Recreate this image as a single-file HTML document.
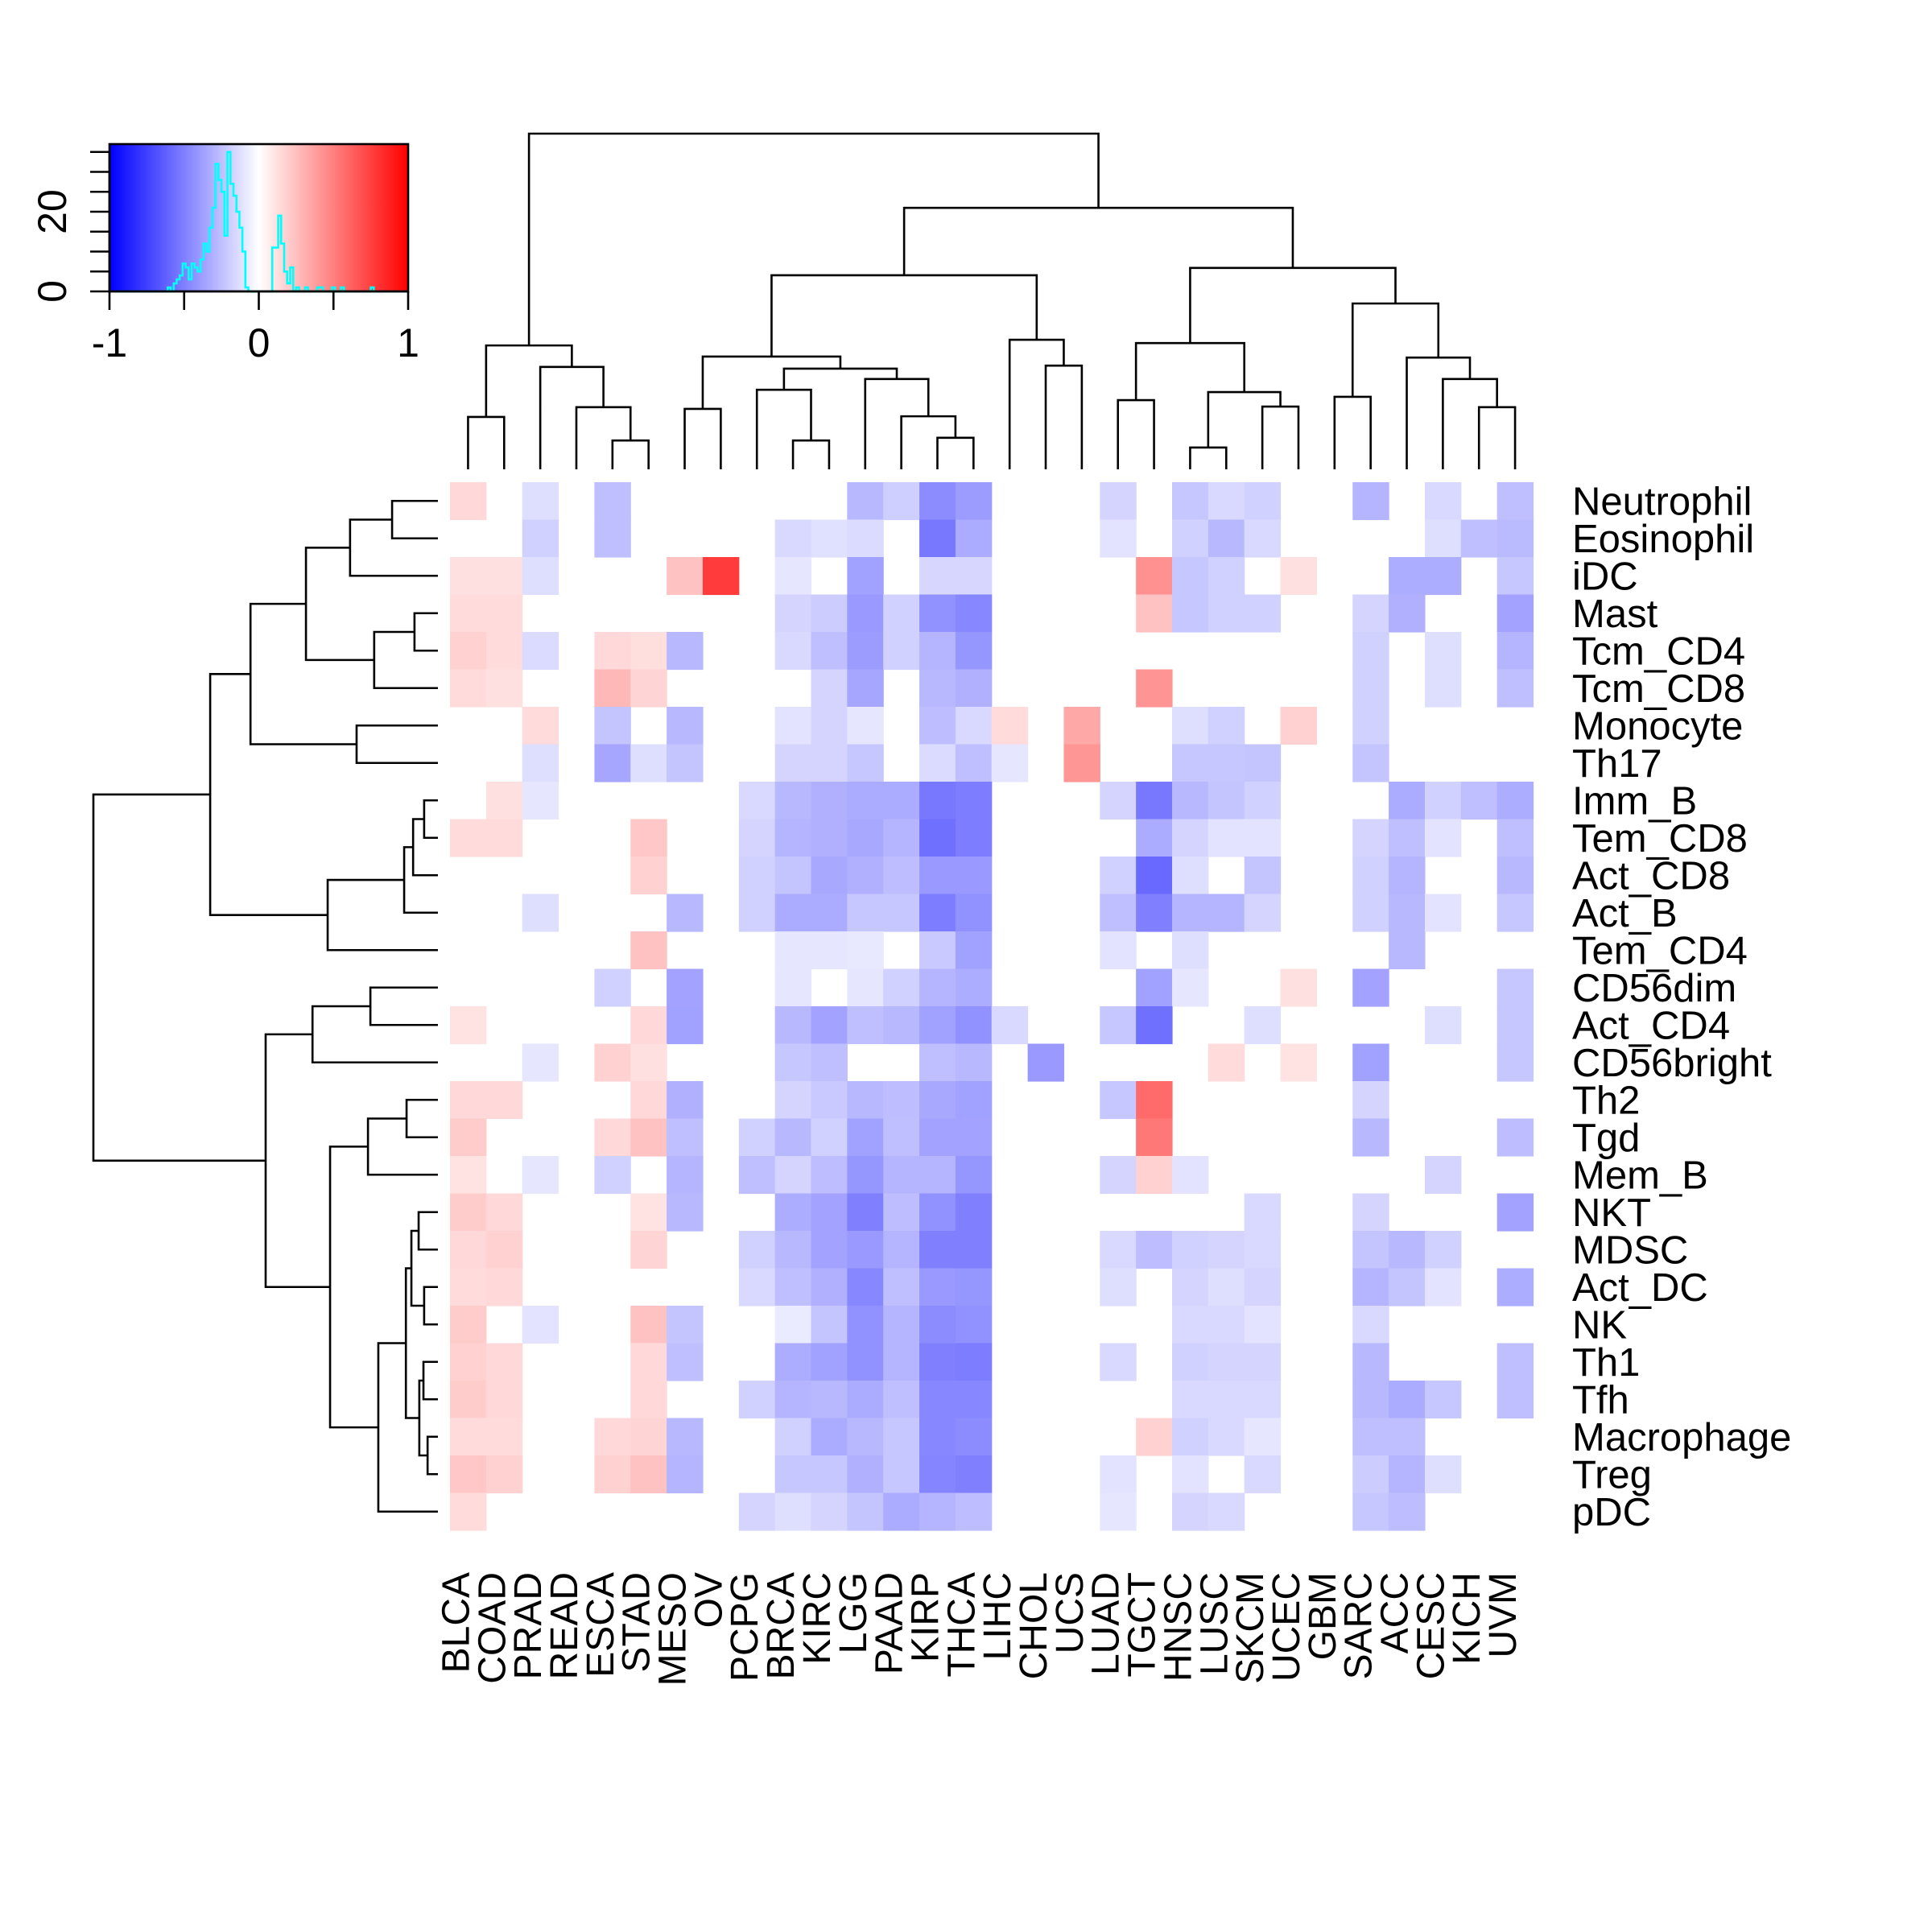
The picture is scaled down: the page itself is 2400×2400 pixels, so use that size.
<!DOCTYPE html>
<html>
<head>
<meta charset="utf-8">
<style>
  html,body{margin:0;padding:0;background:#fff;}
  svg{display:block;}
  text{font-family:"Liberation Sans",Arial,sans-serif;fill:#000;}
</style>
</head>
<body>
<svg id="chart" xmlns="http://www.w3.org/2000/svg" width="2400" height="2400" viewBox="0 0 2400 2400">
  <rect x="0" y="0" width="2400" height="2400" fill="#fff"/>
  <g id="cells"></g>
  <g id="rowLabels"></g>
  <g id="colLabels"></g>
  <g id="topDendro"></g>
  <g id="leftDendro"></g>
  <g id="key">
    <defs>
      <linearGradient id="bwr" x1="0" x2="1" y1="0" y2="0">
        <stop offset="0" stop-color="#0000ff"/>
        <stop offset="0.5" stop-color="#ffffff"/>
        <stop offset="1" stop-color="#ff0000"/>
      </linearGradient>
    </defs>
  </g>
</svg>
<script>
const NS = "http://www.w3.org/2000/svg";
const columns = ["BLCA","COAD","PRAD","READ","ESCA","STAD","MESO","OV","PCPG","BRCA","KIRC","LGG","PAAD","KIRP","THCA","LIHC","CHOL","UCS","LUAD","TGCT","HNSC","LUSC","SKCM","UCEC","GBM","SARC","ACC","CESC","KICH","UVM"];
const rows = ["Neutrophil","Eosinophil","iDC","Mast","Tcm_CD4","Tcm_CD8","Monocyte","Th17","Imm_B","Tem_CD8","Act_CD8","Act_B","Tem_CD4","CD56dim","Act_CD4","CD56bright","Th2","Tgd","Mem_B","NKT","MDSC","Act_DC","NK","Th1","Tfh","Macrophage","Treg","pDC"];
// sparse values: [colIndex, value] per row
const rowValues = [
 [[0,0.15],[2,-0.13],[4,-0.25],[11,-0.28],[12,-0.19],[13,-0.45],[14,-0.39],[18,-0.17],[20,-0.22],[21,-0.15],[22,-0.18],[25,-0.29],[27,-0.15],[29,-0.25]],
 [[2,-0.18],[4,-0.25],[9,-0.15],[10,-0.12],[11,-0.14],[13,-0.53],[14,-0.33],[18,-0.11],[20,-0.18],[21,-0.28],[22,-0.15],[27,-0.13],[28,-0.25],[29,-0.27]],
 [[0,0.12],[1,0.12],[2,-0.13],[6,0.24],[7,0.77],[9,-0.1],[11,-0.37],[13,-0.16],[14,-0.16],[19,0.43],[20,-0.22],[21,-0.18],[23,0.12],[26,-0.32],[27,-0.32],[29,-0.22]],
 [[0,0.14],[1,0.14],[9,-0.17],[10,-0.2],[11,-0.4],[12,-0.18],[13,-0.43],[14,-0.47],[19,0.24],[20,-0.22],[21,-0.18],[22,-0.18],[25,-0.17],[26,-0.31],[29,-0.36]],
 [[0,0.18],[1,0.14],[2,-0.14],[4,0.15],[5,0.13],[6,-0.28],[9,-0.15],[10,-0.25],[11,-0.39],[12,-0.18],[13,-0.29],[14,-0.41],[25,-0.18],[27,-0.13],[29,-0.29]],
 [[0,0.14],[1,0.12],[4,0.28],[5,0.17],[10,-0.17],[11,-0.35],[13,-0.28],[14,-0.31],[19,0.42],[25,-0.18],[27,-0.13],[29,-0.25]],
 [[2,0.14],[4,-0.23],[6,-0.28],[9,-0.11],[10,-0.17],[11,-0.1],[13,-0.26],[14,-0.15],[15,0.14],[17,0.34],[20,-0.13],[21,-0.18],[23,0.18],[25,-0.18]],
 [[2,-0.13],[4,-0.35],[5,-0.13],[6,-0.23],[9,-0.17],[10,-0.17],[11,-0.22],[13,-0.14],[14,-0.25],[15,-0.1],[17,0.41],[20,-0.22],[21,-0.22],[22,-0.23],[25,-0.23]],
 [[1,0.12],[2,-0.1],[8,-0.15],[9,-0.28],[10,-0.31],[11,-0.33],[12,-0.33],[13,-0.53],[14,-0.51],[18,-0.17],[19,-0.53],[20,-0.28],[21,-0.23],[22,-0.18],[26,-0.33],[27,-0.18],[28,-0.25],[29,-0.32]],
 [[0,0.14],[1,0.14],[5,0.22],[8,-0.17],[9,-0.29],[10,-0.31],[11,-0.34],[12,-0.29],[13,-0.56],[14,-0.51],[19,-0.33],[20,-0.17],[21,-0.11],[22,-0.11],[25,-0.17],[26,-0.25],[27,-0.11],[29,-0.25]],
 [[5,0.18],[8,-0.18],[9,-0.23],[10,-0.34],[11,-0.31],[12,-0.26],[13,-0.4],[14,-0.4],[18,-0.18],[19,-0.59],[20,-0.13],[22,-0.23],[25,-0.18],[26,-0.29],[29,-0.28]],
 [[2,-0.13],[6,-0.28],[8,-0.18],[9,-0.33],[10,-0.33],[11,-0.22],[12,-0.22],[13,-0.51],[14,-0.43],[18,-0.25],[19,-0.5],[20,-0.29],[21,-0.29],[22,-0.17],[25,-0.18],[26,-0.28],[27,-0.11],[29,-0.22]],
 [[5,0.24],[9,-0.1],[10,-0.1],[11,-0.09],[13,-0.21],[14,-0.37],[18,-0.11],[20,-0.13],[26,-0.28]],
 [[4,-0.18],[6,-0.36],[9,-0.1],[11,-0.1],[12,-0.18],[13,-0.29],[14,-0.32],[19,-0.37],[20,-0.1],[23,0.12],[25,-0.36],[29,-0.22]],
 [[0,0.11],[5,0.15],[6,-0.37],[9,-0.28],[10,-0.36],[11,-0.25],[12,-0.28],[13,-0.37],[14,-0.43],[15,-0.15],[18,-0.22],[19,-0.56],[22,-0.13],[27,-0.13],[29,-0.22]],
 [[2,-0.1],[4,0.18],[5,0.12],[9,-0.22],[10,-0.25],[13,-0.25],[14,-0.28],[16,-0.4],[21,0.14],[23,0.11],[25,-0.37],[29,-0.22]],
 [[0,0.15],[1,0.15],[5,0.15],[6,-0.31],[9,-0.17],[10,-0.21],[11,-0.28],[12,-0.26],[13,-0.34],[14,-0.37],[18,-0.22],[19,0.58],[25,-0.17]],
 [[0,0.2],[4,0.15],[5,0.24],[6,-0.25],[8,-0.18],[9,-0.28],[10,-0.18],[11,-0.37],[12,-0.25],[13,-0.36],[14,-0.36],[19,0.53],[25,-0.28],[29,-0.26]],
 [[0,0.11],[2,-0.1],[4,-0.18],[6,-0.29],[8,-0.25],[9,-0.17],[10,-0.26],[11,-0.41],[12,-0.29],[13,-0.29],[14,-0.41],[18,-0.17],[19,0.18],[20,-0.11],[27,-0.17]],
 [[0,0.2],[1,0.15],[5,0.11],[6,-0.28],[9,-0.32],[10,-0.36],[11,-0.5],[12,-0.26],[13,-0.43],[14,-0.5],[22,-0.15],[25,-0.17],[29,-0.36]],
 [[0,0.15],[1,0.18],[5,0.17],[8,-0.18],[9,-0.28],[10,-0.36],[11,-0.4],[12,-0.29],[13,-0.5],[14,-0.5],[18,-0.15],[19,-0.26],[20,-0.18],[21,-0.17],[22,-0.15],[25,-0.23],[26,-0.28],[27,-0.18]],
 [[0,0.14],[1,0.15],[8,-0.15],[9,-0.25],[10,-0.31],[11,-0.47],[12,-0.25],[13,-0.4],[14,-0.41],[18,-0.13],[20,-0.17],[21,-0.13],[22,-0.17],[25,-0.29],[26,-0.23],[27,-0.11],[29,-0.32]],
 [[0,0.2],[2,-0.11],[5,0.24],[6,-0.23],[9,-0.08],[10,-0.23],[11,-0.43],[12,-0.29],[13,-0.45],[14,-0.43],[20,-0.15],[21,-0.15],[22,-0.11],[25,-0.15]],
 [[0,0.18],[1,0.15],[5,0.15],[6,-0.25],[9,-0.32],[10,-0.37],[11,-0.43],[12,-0.29],[13,-0.5],[14,-0.51],[18,-0.15],[20,-0.18],[21,-0.17],[22,-0.17],[25,-0.28],[29,-0.25]],
 [[0,0.2],[1,0.15],[5,0.15],[8,-0.18],[9,-0.29],[10,-0.28],[11,-0.33],[12,-0.25],[13,-0.47],[14,-0.47],[20,-0.15],[21,-0.15],[22,-0.15],[25,-0.28],[26,-0.33],[27,-0.22],[29,-0.25]],
 [[0,0.14],[1,0.14],[4,0.15],[5,0.17],[6,-0.28],[9,-0.18],[10,-0.33],[11,-0.28],[12,-0.22],[13,-0.47],[14,-0.45],[19,0.18],[20,-0.18],[21,-0.15],[22,-0.1],[25,-0.25],[26,-0.25]],
 [[0,0.22],[1,0.18],[4,0.18],[5,0.24],[6,-0.29],[9,-0.22],[10,-0.22],[11,-0.31],[12,-0.22],[13,-0.48],[14,-0.5],[18,-0.11],[20,-0.11],[22,-0.15],[25,-0.2],[26,-0.29],[27,-0.13]],
 [[0,0.14],[8,-0.17],[9,-0.13],[10,-0.17],[11,-0.23],[12,-0.33],[13,-0.29],[14,-0.26],[18,-0.1],[20,-0.17],[21,-0.15],[25,-0.22],[26,-0.26]]
];
// dendrograms: [left, right, height] (height relative to root=1)
const colTree = [[[0,1,0.156],[2,[3,[4,5,0.086],0.185],0.305],0.369],
  [[[[6,7,0.180],[[8,[9,10,0.086],0.237],[11,[12,[13,14,0.094],0.158],0.269],0.300],0.336],[15,[16,17,0.309],0.386],0.578],
   [[[18,19,0.206],[[20,21,0.065],[22,23,0.187],0.230],0.376],[[24,25,0.216],[26,[27,[28,29,0.185],0.269],0.333],0.494],0.600],0.779],1];
const rowTree = [[[[[[0,1,0.133],2,0.255],[[3,4,0.068],5,0.185],0.383],[6,7,0.236],0.544],[[[[8,9,0.040],10,0.072],11,0.098],12,0.320],0.661],
  [[[13,14,0.196],15,0.364],[[[16,17,0.091],18,0.203],[[[[19,20,0.056],[21,22,0.040],0.077],[[23,24,0.042],[25,26,0.030],0.054],0.093],27,0.173],0.313],0.5],1];
// histogram of values (counts per 0.02 bin)
const histStart = -0.61;
const histBin = 0.02;
const histCounts = [1,0,2,3,4,7,6,3,7,6,5,8,12,10,16,21,32,28,25,14,35,27,24,20,16,10,1,0,0,0,0,0,0,0,0,11,11,19,12,5,2,6,0,1,0,0,1,0,0,0,1,1,0,0,0,1,0,0,1,0,0,0,0,0,0,0,0,0,1];
const keyXTicks = [-1,-0.5,0,0.5,1];
const keyXLabels = ["-1","","0","","1"];
const keyYTicks = [0,5,10,15,20,25,30,35];
const keyYLabels = ["0","","","","20","","",""];

// ---- geometry ----
const X0 = 559, CW = 44.85, Y0 = 599, RH = 46.5;
const colX = i => X0 + i*CW;
const rowY = j => Y0 + j*RH;
function color(v){
  if (v < 0){ const c = Math.round(255*(1+v)); return `rgb(${c},${c},255)`; }
  const c = Math.round(255*(1-v)); return `rgb(255,${c},${c})`;
}
function mk(tag, attrs, parent){
  const e = document.createElementNS(NS, tag);
  for (const k in attrs) e.setAttribute(k, attrs[k]);
  parent.appendChild(e); return e;
}
// cells
const cellG = document.getElementById('cells');
rowValues.forEach((vals, j) => {
  vals.forEach(([i, v]) => {
    if (v === 0) return;
    const r = mk('rect', {x: colX(i).toFixed(2), y: rowY(j).toFixed(2), width: (CW+0.6).toFixed(2), height: (RH+0.6).toFixed(2), fill: color(v)}, cellG);
    
    
  });
});
// row labels
const rl = document.getElementById('rowLabels');
rows.forEach((name, j) => {
  const t = mk('text', {x: 1953, y: (rowY(j) + RH/2 + 17).toFixed(1), 'font-size': 49}, rl);
  t.textContent = name;
  
  
});
// column labels
const cl = document.getElementById('colLabels');
columns.forEach((name, i) => {
  const cx = colX(i) + CW/2 + 1, cy = 1953;
  const t = mk('text', {x: 0, y: 0, 'font-size': 48, 'text-anchor': 'end', transform: `translate(${cx.toFixed(1)},${cy}) rotate(-90)`}, cl);
  t.textContent = name;
  
  
});
// dendrograms
function drawTree(node, g, leafPos, hToCoord, vertical){
  if (typeof node === 'number') return [leafPos(node), hToCoord(0)];
  const a = drawTree(node[0], g, leafPos, hToCoord, vertical);
  const b = drawTree(node[1], g, leafPos, hToCoord, vertical);
  const h = hToCoord(node[2]);
  let d;
  if (vertical) d = `M${a[0]},${a[1]}V${h}H${b[0]}V${b[1]}`;
  else d = `M${a[1]},${a[0]}H${h}V${b[0]}H${b[1]}`;
  const p = mk('path', {d: d, fill: 'none', stroke: '#000', 'stroke-width': 2.6}, g);
  
  
  return [(a[0]+b[0])/2, h];
}
drawTree(colTree, document.getElementById('topDendro'), i => colX(i)+CW/2, h => 583 - h*417, true);
drawTree(rowTree, document.getElementById('leftDendro'), j => rowY(j)+RH/2, h => 544 - h*428, false);

// colour key
const key = document.getElementById('key');
const KX0 = 136, KX1 = 507, KY0 = 179, KY1 = 362, PPC = 4.95;
const kx = v => KX0 + (Math.max(-1, Math.min(1, v))+1)/2*(KX1-KX0);
const ky = c => KY1 - c*PPC;
const bar = mk('rect', {x: KX0, y: KY0, width: KX1-KX0, height: KY1-KY0, fill: 'url(#bwr)'}, key);


let hd = `M${kx(-1)},${ky(0)}H${kx(histStart)}`;
histCounts.forEach((c, k) => {
  const a = histStart + k*histBin;
  hd += `V${ky(c).toFixed(1)}H${kx(a+histBin).toFixed(1)}`;
});
hd += `V${ky(0)}H${kx(1)}`;
const hp = mk('path', {d: hd, fill: 'none', stroke: '#00ffff', 'stroke-width': 2.6}, key);


const frame = mk('rect', {x: KX0, y: KY0, width: KX1-KX0, height: KY1-KY0, fill: 'none', stroke: '#000', 'stroke-width': 2.6}, key);


const xaxis = mk('path', {d: `M${kx(-1)},${KY1}H${kx(1)}` + keyXTicks.map(v => `M${kx(v)},${KY1}V${KY1+23}`).join(''), stroke: '#000', 'stroke-width': 2.6, fill: 'none'}, key);


keyXTicks.forEach((v, k) => {
  if (!keyXLabels[k]) return;
  const t = mk('text', {x: kx(v), y: 443, 'font-size': 50, 'text-anchor': 'middle'}, key);
  t.textContent = keyXLabels[k];
  
  
});
const yaxis = mk('path', {d: `M${KX0},${ky(0)}V${ky(35)}` + keyYTicks.map(c => `M${KX0},${ky(c)}H${KX0-24}`).join(''), stroke: '#000', 'stroke-width': 2.6, fill: 'none'}, key);


keyYTicks.forEach((c, k) => {
  if (!keyYLabels[k]) return;
  const t = mk('text', {x: 0, y: 0, 'font-size': 50, 'text-anchor': 'middle', transform: `translate(82,${ky(c).toFixed(1)}) rotate(-90)`}, key);
  t.textContent = keyYLabels[k];
  
  
});
</script>
</body>
</html>
